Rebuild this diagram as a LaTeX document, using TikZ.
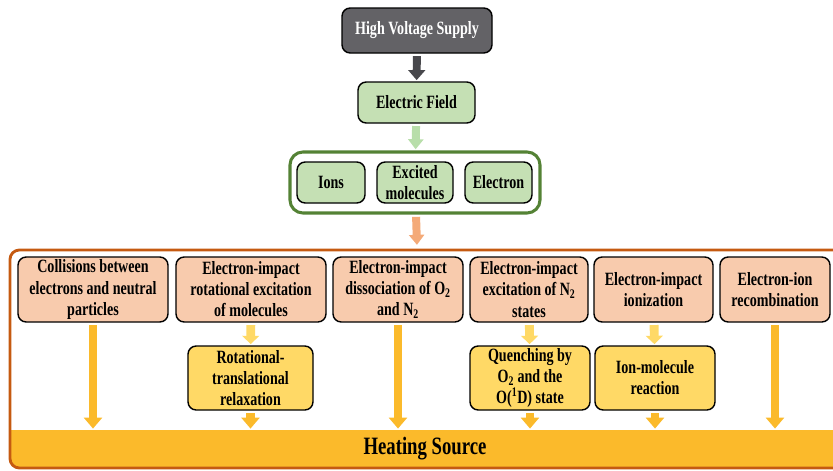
\documentclass[tikz,border=0pt]{standalone}
\usepackage{fontspec}
\setmainfont{Liberation Serif}[FakeStretch=0.75]
\usetikzlibrary{arrows.meta}
\definecolor{supplyGray}{RGB}{99,98,102}
\definecolor{supplyArrow}{RGB}{72,72,76}
\definecolor{fieldGreen}{RGB}{197,224,180}
\definecolor{fieldArrow}{RGB}{184,222,170}
\definecolor{groupGreen}{RGB}{84,130,53}
\definecolor{procSalmon}{RGB}{248,203,173}
\definecolor{procArrow}{RGB}{244,170,120}
\definecolor{frameOrange}{RGB}{197,90,17}
\definecolor{relaxYellow}{RGB}{255,217,102}
\definecolor{heatGold}{RGB}{251,186,43}

\tikzset{
  box/.style={draw=black, line width=1.2pt, rounded corners=7pt, align=center,
    inner sep=0pt, font=\bfseries\fontsize{16}{18}\selectfont},
  blockarrow/.style={line width=#1, shorten <=2pt, shorten >=1pt},
}

\begin{document}
\begin{tikzpicture}[x=0.03cm, y=-0.03cm]

%
\clip (0,0) rectangle (833,470);

%
\node[box, fill=supplyGray, text=white, minimum width=4.5cm, minimum height=1.35cm] (supply) at (417,30.5) {High Voltage Supply};
\node[box, fill=fieldGreen, minimum width=3.51cm, minimum height=1.23cm] (field) at (416.5,102.5) {Electric Field};

%
\node[draw=groupGreen, line width=2.6pt, rounded corners=11pt, minimum width=7.5cm, minimum height=1.83cm] (species) at (415,182.5) {};
\node[box, fill=fieldGreen, minimum width=2.04cm, minimum height=1.23cm] (ions) at (331,182.5) {Ions};
\node[box, fill=fieldGreen, minimum width=2.28cm, minimum height=1.23cm] (excited) at (415,182.5) {Excited\\molecules};
\node[box, fill=fieldGreen, minimum width=2.01cm, minimum height=1.23cm] (electron) at (498.5,182.5) {Electron};

%
\begin{scope}
  \clip[rounded corners=8pt] (10,250) rectangle (850,468);
  \fill[heatGold] (10,430) rectangle (850,468);
\end{scope}
\draw[frameOrange, line width=2.4pt, rounded corners=8pt] (10,250) rectangle (850,468);
\coordinate (frametop) at (417,246);
\node[font=\bfseries\fontsize{21.3}{24}\selectfont, minimum width=24.9cm, minimum height=1.14cm, inner sep=0pt] (heat) at (425,449) {Heating Source};

%
\node[box, fill=procSalmon, minimum width=4.5cm, minimum height=1.95cm] (collide) at (93,289.5) {Collisions between\\electrons and neutral\\particles};
\node[box, fill=procSalmon, minimum width=4.5cm, minimum height=1.95cm] (rotex) at (251,289.5) {Electron-impact\\rotational excitation\\of molecules};
\node[box, fill=procSalmon, minimum width=3.9cm, minimum height=1.95cm] (dissoc) at (398,289.5) {Electron-impact\\dissociation of O\textsubscript{2}\\and N\textsubscript{2}};
\node[box, fill=procSalmon, minimum width=3.54cm, minimum height=1.95cm] (nexcite) at (529,289.5) {Electron-impact\\excitation of N\textsubscript{2}\\states};
\node[box, fill=procSalmon, minimum width=3.57cm, minimum height=1.95cm] (ionize) at (653.5,289.5) {Electron-impact\\ionization};
\node[box, fill=procSalmon, minimum width=3.3cm, minimum height=1.95cm] (recomb) at (775,289.5) {Electron-ion\\recombination};

%
\node[box, fill=relaxYellow, minimum width=3.75cm, minimum height=1.92cm] (relax) at (250.5,378) {Rotational-\\translational\\relaxation};
\node[box, fill=relaxYellow, minimum width=3.6cm, minimum height=1.92cm] (quench) at (530,378) {Quenching by\\O\textsubscript{2} and the\\O(\textsuperscript{1}D) state};
\node[box, fill=relaxYellow, minimum width=3.6cm, minimum height=1.92cm] (ionmol) at (655,378) {Ion-molecule\\reaction};

%
\draw[supplyArrow, blockarrow=6.8pt, -{Triangle[length=0.3cm, width=0.5cm]}] (supply) -- (field);
\draw[fieldArrow, blockarrow=6.8pt, -{Triangle[length=0.3cm, width=0.45cm]}] (field) -- (species);
\draw[procArrow, blockarrow=6.8pt, -{Triangle[length=0.3cm, width=0.45cm]}] (species) -- (frametop);

%
\foreach \src in {collide, dissoc, recomb, relax, quench, ionmol}
  \draw[heatGold, blockarrow=7.6pt, -{Triangle[length=0.33cm, width=0.54cm]}] (\src.south) -- (\src.south |- heat.north);

%
\draw[relaxYellow, blockarrow=7.6pt, -{Triangle[length=0.25cm, width=0.5cm]}] (rotex) -- (relax);
\draw[relaxYellow, blockarrow=7.6pt, -{Triangle[length=0.25cm, width=0.5cm]}] (nexcite) -- (quench);
\draw[relaxYellow, blockarrow=7.6pt, -{Triangle[length=0.25cm, width=0.5cm]}] (ionize) -- (ionmol);

\end{tikzpicture}
\end{document}
